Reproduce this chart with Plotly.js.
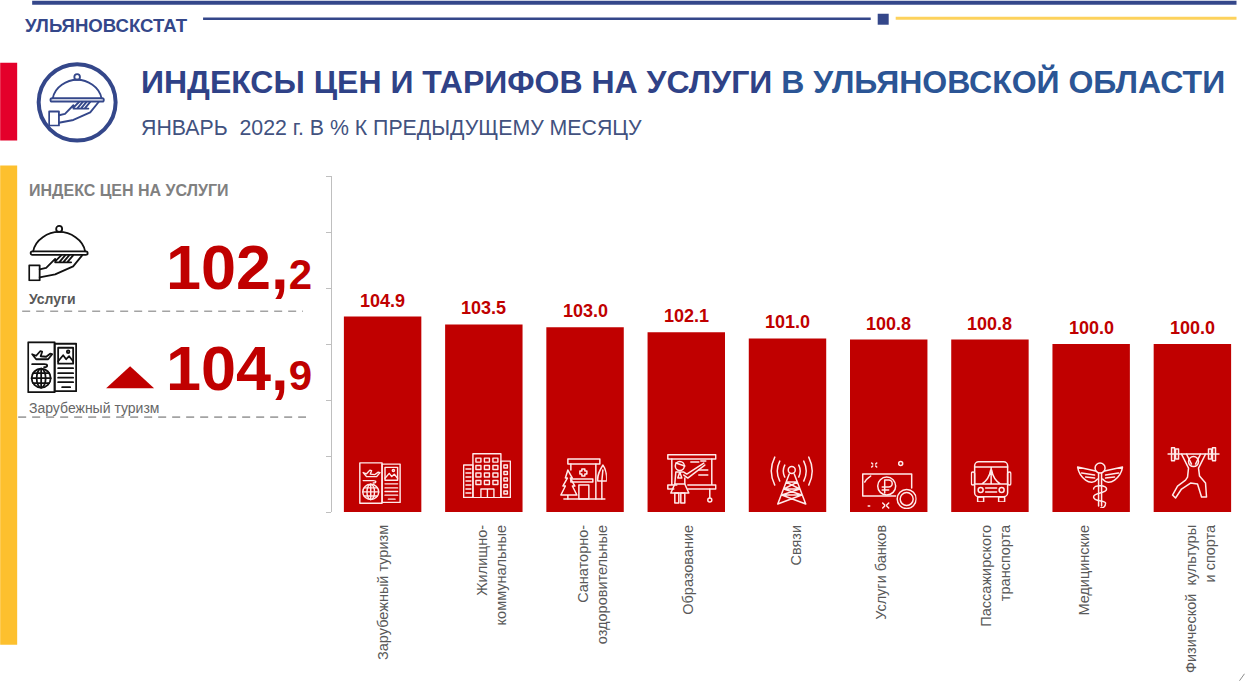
<!DOCTYPE html>
<html><head><meta charset="utf-8">
<script src="https://cdn.plot.ly/plotly-3.0.1.min.js"></script>
<style>html,body{margin:0;padding:0;background:#fff}#chart{width:1245px;height:681px}</style>
</head><body><div id="chart"></div>
<script>
// ---- data ----
const categories = ['Зарубежный туризм','Жилищно-коммунальные','Санаторно-оздоровительные','Образование','Связи','Услуги банков','Пассажирского транспорта','Медицинские','Физической культуры и спорта'];
const tickLabels = ['Зарубежный туризм','Жилищно-<br>коммунальные','Санаторно-<br>оздоровительные','Образование','Связи','Услуги банков','Пассажирского<br>транспорта','Медицинские','Физической\u00A0\u00A0культуры<br>и спорта'];
const values = [104.9,103.5,103.0,102.1,101.0,100.8,100.8,100.0,100.0];
const valueLabels = ['104.9','103.5','103.0','102.1','101.0','100.8','100.8','100.0','100.0'];
const axisRange = [70,130];
const axisStep = 10;

// ---- page geometry ----
const W=1245,H=681,L=332,R=1243.5,T=175.5,B=512;
const px=x=>(x-L)/(R-L), py=y=>(B-y)/(B-T);
const NAVY='#34478a',RED='#c00000',FONT='"Liberation Sans", Arial, sans-serif';
const STEP=(R-L)/categories.length;
// horizontal nudge of each axis label, in pixels (labels sit off-centre in the reference)
const labelNudge=[1,8,8,2,9,-7,6,-7,8];

// ---- decoration glyphs ----
const cloche=`<circle cx="31" cy="4.5" r="3"/><path d="M5 27C7 15 20 7.5 31 7.5S55 15 57 27"/><rect x="2.5" y="27" width="57" height="3.5" rx="1.7"/><rect x="1" y="41" width="10.5" height="15"/><path d="M11.5 45L18 43.5L27 34.5M11.5 53L27 50L45 42L54 31M27 37L33 31M31 38L37 31M35 38L41 31M39 38L45 31M27 38H43"/>`;
const passport=`<rect x="1" y="1" width="26.5" height="50"/><rect x="27.5" y="2.5" width="21.5" height="47.5"/><path d="M5 13L9 14.500L13 10L15 10.500L13.500 15L19 15.500L23 12.500L25 13L21 18L9 18ZM5 23H17C21 23 21 26 17 26"/><circle cx="14" cy="37" r="9.500"/><ellipse cx="14" cy="37" rx="4.500" ry="9.500"/><path d="M4.500 37H23.500M6 32H22M6 42H22M14 27.500V46.500"/><rect x="31" y="6.500" width="15" height="16"/><path d="M31 20L36 14L39 18L42 15L46 20"/><circle cx="41" cy="10.500" r="1.300"/><path d="M31 27H46M31 32H46M31 36.500H46M31 41H46M35 46H43"/>`;
const building=`<rect x="10" y="0.700" width="28" height="44"/><rect x="0.700" y="12" width="9.300" height="32.500"/><rect x="38" y="8" width="9.500" height="36.500"/><g><rect x="13" y="5" width="5" height="4"/><rect x="21.500" y="5" width="5" height="4"/><rect x="30" y="5" width="5" height="4"/><rect x="13" y="12.500" width="5" height="4"/><rect x="21.500" y="12.500" width="5" height="4"/><rect x="30" y="12.500" width="5" height="4"/><rect x="13" y="20" width="5" height="4"/><rect x="21.500" y="20" width="5" height="4"/><rect x="30" y="20" width="5" height="4"/><rect x="13" y="27.500" width="5" height="4"/><rect x="21.500" y="27.500" width="5" height="4"/><rect x="30" y="27.500" width="5" height="4"/></g><path d="M18 44.500V36H31V44.500M24.500 36V44.500"/><path d="M3 16H8M3 20H8M3 24H8M3 28H8M3 32H8M3 36H8M3 40H8"/><rect x="41" y="12" width="3.500" height="3"/><rect x="41" y="18.500" width="3.500" height="3"/><rect x="41" y="25" width="3.500" height="3"/><rect x="41" y="31.500" width="3.500" height="3"/><rect x="41" y="38" width="3.500" height="3"/>`;
const sanatorium=`<rect x="8" y="1" width="32" height="5"/><path d="M11 6V12M36 6V41"/><path d="M22 11V13H20V16H22V18H25V16H27V13H25V11Z"/><rect x="11" y="21" width="22" height="3"/><rect x="19" y="27" width="10" height="14"/><path d="M8 12L12.500 20H10.500L15 28H12.500L17 37H1L5.500 28H3L7.500 20H5.500ZM8 37V41"/><path d="M43 7C47 12 47 20 47 23H38C37 17 40 12 43 7ZM42 23V41M43 12L42 23"/><path d="M4 41H45"/>`;
const teacher=`<rect x="1" y="0.700" width="48" height="4.300"/><path d="M5 5V31M45 5V31M1 31H10M21 31H49V35H21M1 31V35H7"/><circle cx="13" cy="12" r="4.500"/><path d="M9 9L18 12M9 18H17L20 20L37 9M17 21L21 24L38 11M9 18L8 30H18V24M13 18L11 24L15 24Z"/><path d="M8 30L4 39H22L18 30"/><rect x="8" y="39" width="4" height="10"/><rect x="14" y="39" width="4" height="10"/><path d="M43 35V44M24 8H32M34 7H39M32 16H41M32 21H41"/><circle cx="43" cy="46" r="2"/>`;
const tower=`<circle cx="22" cy="15" r="3.500"/><path d="M19.500 19L8 49M24.500 19L36 49M16.500 27H27.500M14 34H30M12 40L32 40M16.500 27L30 34L12 40L36 49M27.500 27L14 34L32 40L8 49"/><path d="M15 10Q12 16 15 22M29 10Q32 16 29 22M10 6Q5 16 10 26M34 6Q39 16 34 26M5 2Q-2 16 5 30M39 2Q46 16 39 30"/>`;
const banks=`<path d="M1 14H50V28M1 14V36H34M3 22C5 18 7 18 9 16"/><circle cx="25" cy="26" r="9"/><path d="M23 33V20H27A3.500 3.500 0 0 1 27 27H20.500M20.500 30H27"/><circle cx="45" cy="39" r="9.500"/><circle cx="45" cy="39" r="6.500"/><circle cx="39" cy="3.500" r="2"/><path d="M10 3L11 4M14 6L15 7M15 3L14 4M11 6L10 7M21 43L23 45M27 43L25 45M21 48L23 46M27 48L25 46M6.500 46H8"/>`;
const bus=`<rect x="4" y="0.700" width="33" height="35" rx="4"/><rect x="0.700" y="11" width="3.300" height="13" rx="1.500"/><rect x="37" y="11" width="3.300" height="13" rx="1.500"/><path d="M4 6H37M4 23H37M20.500 6V23M20 9C19 15 16 20 11 23M21 9C22 15 25 20 30 23"/><circle cx="10" cy="29" r="2.500"/><circle cx="31" cy="29" r="2.500"/><path d="M15 27H26M15 31H26"/><rect x="7" y="36" width="6" height="5"/><rect x="28" y="36" width="6" height="5"/>`;
const caduceus=`<circle cx="23.500" cy="6" r="5"/><path d="M22 11V44M25 11V44"/><path d="M19 9L1 5C2 11 5 15 9 18C13 21 18 21 21 17M18 13L5 11M18 16L9 15"/><path d="M28 9L46 5C45 11 42 15 38 18C34 21 29 21 26 17M29 13L42 11M29 16L38 15"/><path d="M17 27C17 22 30 23 30 27C30 32 17 30 17 35C17 40 29 38 29 41C29 45 26 46 24 46"/>`;
const lifter=`<path d="M0 7H52"/><rect x="4" y="0.700" width="3" height="13"/><rect x="8" y="2" width="3" height="10"/><rect x="45" y="0.700" width="3" height="13"/><rect x="41" y="2" width="3" height="10"/><circle cx="26" cy="14.500" r="5"/><path d="M14 7L21 21L20 30L18 33L10 39L5 48L8 51L14 42L23 36L30 37L34 50H39L38 36L32 29L31 21L38 7M19 7L24 17M33 7L28 17"/>`;

function glyph(x0,y0,w,h,vw,vh,color,sw,inner){
  const svg=`<svg xmlns="http://www.w3.org/2000/svg" viewBox="0 0 ${vw} ${vh}" width="${w*2}" height="${h*2}" preserveAspectRatio="none"><g fill="none" stroke="${color}" stroke-width="${sw}" stroke-linejoin="round" stroke-linecap="round">${inner}</g></svg>`;
  return {source:'data:image/svg+xml,'+encodeURIComponent(svg),xref:'paper',yref:'paper',x:px(x0),y:py(y0),sizex:w/(R-L),sizey:h/(B-T),xanchor:'left',yanchor:'top',sizing:'stretch',layer:'above'};
}
const WHITE='#ffeaea';
const images=[
  glyph(359,462,42,42,50,52,WHITE,1.7,passport),
  glyph(463,453,48,45,48,45,WHITE,1.4,building),
  glyph(560,458,47,42,47,42,WHITE,1.5,sanatorium),
  glyph(667,454,50,50,50,50,WHITE,1.5,teacher),
  glyph(770,455,44,50,44,50,WHITE,1.5,tower),
  glyph(862,460,55,49,55,49,WHITE,1.5,banks),
  glyph(971,461,41,41,41,41,WHITE,1.5,bus),
  glyph(1077,462,47,46,47,46,WHITE,1.5,caduceus),
  glyph(1168,447,52,53,52,53,WHITE,1.5,lifter),
  glyph(28,224,62,57,62,57,'#111111',1.8,cloche),
  glyph(27,341,50,52,50,52,'#111111',1.8,passport),
  glyph(48,72,58,54,62,57,NAVY,2,cloche)
];

function rect(x0,y0,x1,y1,fill){return {type:'rect',xref:'paper',yref:'paper',x0:px(x0),x1:px(x1),y0:py(y0),y1:py(y1),fillcolor:fill,line:{width:0},layer:'below'};}
function seg(x0,y0,x1,y1,color,width,dash){return {type:'line',xref:'paper',yref:'paper',x0:px(x0),x1:px(x1),y0:py(y0),y1:py(y1),line:{color,width,dash:dash||'solid'}};}
const shapes=[
  rect(32,0,1237,4,NAVY),
  seg(203,18,871,18,NAVY,2.5),
  rect(878,13,889,24,NAVY),
  seg(896,17.5,1237,17.5,'#fdd25c',3),
  rect(0,62,17,140,'#e4002b'),
  rect(0,165,17,645,'#fdc02e'),
  {type:'circle',xref:'paper',yref:'paper',x0:px(38.5),x1:px(115.5),y0:py(63.5),y1:py(140),line:{color:NAVY,width:4},fillcolor:'rgba(0,0,0,0)'},
  seg(22,311,303,311,'#a3a3a3',1.6,'8px,6px'),
  seg(18,417,306,417,'#a3a3a3',1.6,'8px,6px'),
  {type:'path',xref:'paper',yref:'paper',path:`M${px(106)} ${py(388)}L${px(154)} ${py(388)}L${px(130)} ${py(366)}Z`,fillcolor:RED,line:{width:0}},
  seg(1240,681,1245,674,'#8c8c8c',1)
];

function note(x,y,text,size,color,extra){return Object.assign({xref:'paper',yref:'paper',x:px(x),y:py(y),text,showarrow:false,xanchor:'left',yanchor:'middle',borderpad:0,borderwidth:0,font:{family:FONT,size,color}},extra||{});}
const barLabels=categories.map((c,i)=>({xref:'x',yref:'y',x:c,y:values[i],text:'<b>'+valueLabels[i]+'</b>',showarrow:false,xanchor:'center',yanchor:'bottom',yshift:6,borderpad:0,borderwidth:0,font:{family:FONT,size:18,color:RED}}));
const annotations=[
  note(25,25,'<b>УЛЬЯНОВСКСТАТ</b>',18.6,NAVY),
  note(141,81,'<b>ИНДЕКСЫ ЦЕН И ТАРИФОВ НА УСЛУГИ <span style="color:#2b5595">В УЛЬЯНОВСКОЙ ОБЛАСТИ</span></b>',32,'#2f4287'),
  note(141,127,'ЯНВАРЬ\u00A0\u00A02022 г. В % К ПРЕДЫДУЩЕМУ МЕСЯЦУ',21.3,'#42527f'),
  note(29,190,'<b>ИНДЕКС ЦЕН НА УСЛУГИ</b>',16,'#808080'),
  note(29,299,'<b>Услуги</b>',14,'#595959'),
  note(29,408,'Зарубежный туризм',14,'#666666'),
  note(312,267,'<b>102,<span style="font-size:42px">2</span></b>',63,RED,{xanchor:'right'}),
  note(312,368,'<b>104,<span style="font-size:42px">9</span></b>',63,RED,{xanchor:'right'})
].concat(barLabels);

const trace={type:'bar',x:categories,y:values,marker:{color:RED,line:{width:0}},hoverinfo:'x+y'};

Plotly.newPlot('chart',[trace],{
  width:W,height:H,margin:{l:L,r:W-R,t:T,b:H-B,pad:0},
  paper_bgcolor:'#ffffff',plot_bgcolor:'#ffffff',showlegend:false,bargap:0.235,
  font:{family:FONT},
  xaxis:{type:'category',categoryorder:'array',categoryarray:categories,range:[-0.5,categories.length-0.5],
    tickmode:'array',tickvals:categories.map((c,i)=>i+labelNudge[i]/STEP),ticktext:tickLabels,
    tickangle:-90,ticks:'',showline:false,showgrid:false,zeroline:false,ticklabelstandoff:9,automargin:false,
    tickfont:{family:FONT,size:14.5,color:'#595959'}},
  yaxis:{range:axisRange,dtick:axisStep,tick0:axisRange[0],showticklabels:false,ticks:'outside',ticklen:5,tickwidth:1,tickcolor:'#bfbfbf',
    showline:true,linecolor:'#bfbfbf',linewidth:1.5,showgrid:false,zeroline:false,automargin:false},
  shapes,annotations,images
},{displayModeBar:false,staticPlot:true});
</script></body></html>
